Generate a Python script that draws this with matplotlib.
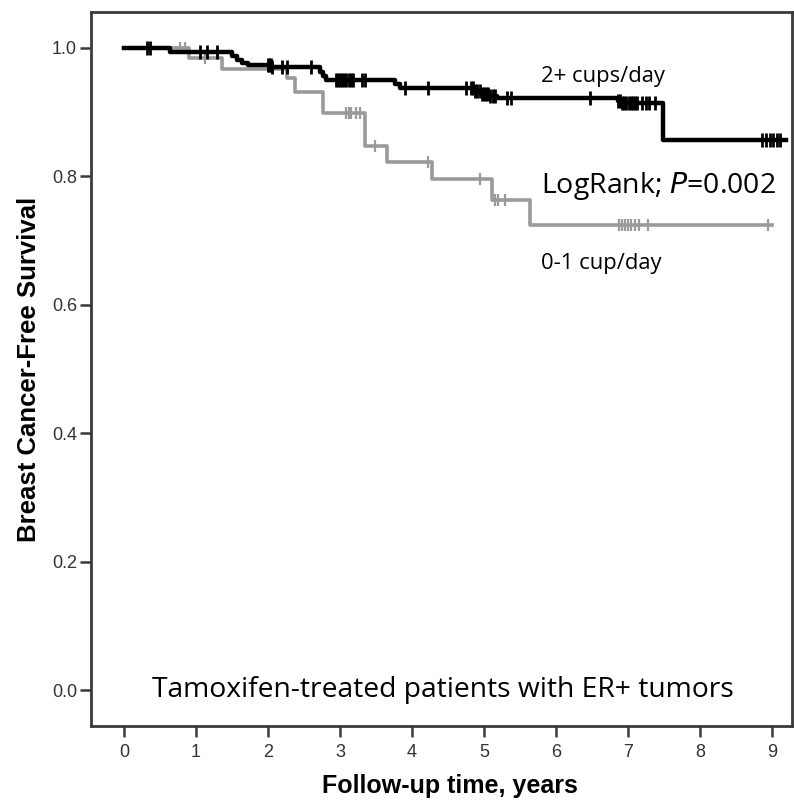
import numpy as np
import matplotlib
matplotlib.use("Agg")
import matplotlib.pyplot as plt

# ---- data ----
high_times = [0.0, 0.64, 1.50, 1.57, 1.64, 1.72, 2.05, 2.72, 2.76, 2.80, 3.76, 3.84,
              4.86, 4.96, 5.08, 5.18, 6.86, 6.92, 7.49, 9.20]
high_surv = [1.000, 0.994, 0.988, 0.982, 0.977, 0.973, 0.970, 0.962, 0.956, 0.950, 0.944, 0.938,
             0.933, 0.929, 0.925, 0.922, 0.918, 0.914, 0.857, 0.857]
high_censor = [0.32, 0.36, 1.06, 1.15, 1.29, 2.00, 2.02, 2.04, 2.06, 2.20, 2.27, 2.60,
               2.94, 2.97, 3.00, 3.03, 3.06, 3.09, 3.12, 3.15, 3.18, 3.30, 3.35, 3.90, 4.22,
               4.75, 4.82, 4.85, 4.88, 4.91, 4.94, 4.97, 5.00, 5.03, 5.06, 5.09, 5.12, 5.15,
               5.32, 5.38, 6.47, 6.86, 6.89, 6.92, 6.95, 6.98, 7.01, 7.04, 7.07, 7.10, 7.13,
               7.20, 7.25, 7.30, 7.38, 8.87, 8.92, 8.97, 9.02, 9.07, 9.12]

low_times = [0.0, 0.90, 1.36, 2.26, 2.37, 2.77, 3.35, 3.65, 4.28, 5.11, 5.64, 9.00]
low_surv = [1.000, 0.985, 0.967, 0.953, 0.931, 0.899, 0.847, 0.822, 0.796, 0.763, 0.724, 0.724]
low_censor = [0.78, 0.85, 1.12, 3.08, 3.12, 3.16, 3.22, 3.28, 3.49, 4.22, 4.94, 5.15, 5.20,
              5.30, 6.88, 6.92, 6.96, 7.00, 7.05, 7.10, 7.15, 7.28, 8.95]

xticks = list(range(0, 10))
yticks = [0.0, 0.2, 0.4, 0.6, 0.8, 1.0]

# ---- figure ----
fig = plt.figure(figsize=(7.94, 8.05), dpi=100)
ax = fig.add_axes([91/794, 1-726/805, (792-91)/794, (726-12)/805])

def censor_y(times, surv, c):
    t = np.asarray(times); s = np.asarray(surv)
    idx = np.searchsorted(t, np.asarray(c), side='right') - 1
    return s[idx]

gray = '#9a9a9a'
ax.step(low_times, low_surv, where='post', color=gray, lw=2.6, zorder=2)
ax.plot(low_censor, censor_y(low_times, low_surv, low_censor), ls='none',
        marker='|', ms=9, mew=1.6, color=gray, zorder=2)
ax.step(high_times, high_surv, where='post', color='black', lw=3.2, zorder=3)
ax.plot(high_censor, censor_y(high_times, high_surv, high_censor), ls='none',
        marker='|', ms=10, mew=2.0, color='black', zorder=3)

ax.set_xlim(-0.458, 9.28)
ax.set_ylim(-0.056, 1.056)
ax.set_xticks(xticks)
ax.set_xticklabels([str(v) for v in xticks])
ax.set_yticks(yticks)
ax.set_yticklabels([f"{v:.1f}" for v in yticks])

for sp in ax.spines.values():
    sp.set_linewidth(2.0)
    sp.set_color('#3a3a3a')
ax.tick_params(direction='out', length=8, width=1.8, color='#3a3a3a',
               labelsize=13, labelcolor='#333333')
ax.tick_params(axis='x', pad=5)
ax.tick_params(axis='y', pad=2)
for lab in ax.get_xticklabels() + ax.get_yticklabels():
    lab.set_family('Liberation Sans')

ax.set_xlabel('Follow-up time, years', family='Liberation Sans', fontweight='bold',
              fontsize=18, labelpad=9)
ax.xaxis.label.set_x(0.512)
ax.set_ylabel('Breast Cancer-Free Survival', family='Liberation Sans', fontweight='bold',
              fontsize=18.5, labelpad=8)

tfont = ['Open Sans', 'DejaVu Sans']
ax.text(5.8, 0.955, '2+ cups/day', family=tfont, fontsize=15.8, va='center', ha='left')
ax.text(5.8, 0.785, 'LogRank; $\\mathit{P}$=0.002', family=tfont, fontsize=20.5,
        va='center', ha='left')
ax.text(5.8, 0.664, '0-1 cup/day', family=tfont, fontsize=15.8, va='center', ha='left')
ax.text(4.43, 0.0, 'Tamoxifen-treated patients with ER+ tumors', family=tfont,
        fontsize=20.3, va='center', ha='center')

fig.savefig('out.png', dpi=100)
